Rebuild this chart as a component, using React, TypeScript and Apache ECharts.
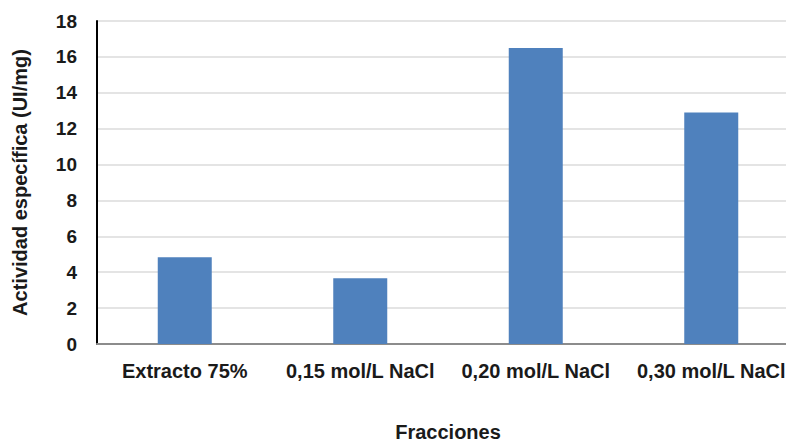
import React, { useEffect, useRef } from "react";
import * as echarts from "echarts";

const categories = ["Extracto 75%", "0,15 mol/L NaCl", "0,20 mol/L NaCl", "0,30 mol/L NaCl"];
const values = [4.83, 3.66, 16.5, 12.9];
const yTicks = { min: 0, max: 18, interval: 2 };

export default function App() {
  const ref = useRef<HTMLDivElement>(null);
  useEffect(() => {
    if (!ref.current) return;
    const chart = echarts.init(ref.current, null, { renderer: "svg" });
    const font = "Liberation Sans, Arial, sans-serif";
    chart.setOption({
      animation: false,
      backgroundColor: "#ffffff",
      grid: { left: 97, right: -13, top: 21, bottom: 100, containLabel: false, outerBoundsMode: "none" },
      xAxis: {
        type: "category",
        data: categories,
        name: "Fracciones",
        nameLocation: "middle",
        nameGap: 78,
        nameTextStyle: { fontFamily: font, fontWeight: "bold", fontSize: 20, color: "#1a1a1a" },
        axisLine: { lineStyle: { color: "#8c8c8c", width: 2 } },
        axisTick: { show: false },
        axisLabel: { fontFamily: font, fontWeight: "bold", fontSize: 20, color: "#1a1a1a", margin: 17, interval: 0 },
      },
      yAxis: {
        type: "value",
        min: yTicks.min,
        max: yTicks.max,
        interval: yTicks.interval,
        name: "Actividad específica (UI/mg)",
        nameLocation: "middle",
        nameRotate: 90,
        nameGap: 67,
        nameTextStyle: { fontFamily: font, fontWeight: "bold", fontSize: 20, color: "#1a1a1a" },
        axisLine: { show: true, lineStyle: { color: "#000000", width: 2 } },
        axisTick: { show: false },
        axisLabel: { fontFamily: font, fontWeight: "bold", fontSize: 19, color: "#1a1a1a", margin: 20 },
        splitLine: { lineStyle: { color: "#e4e4e4", width: 2 } },
      },
      series: [
        {
          type: "bar",
          data: values,
          barWidth: 54,
          itemStyle: { color: "#4f81bd" },
        },
      ],
    });
    return () => chart.dispose();
  }, []);
  return <div ref={ref} style={{ width: 786, height: 444, position: "absolute", left: 0, top: 0 }} />;
}
